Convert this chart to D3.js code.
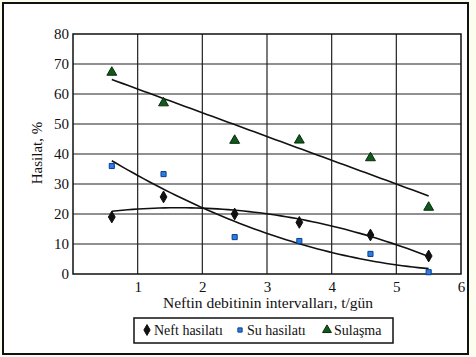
<!DOCTYPE html>
<html>
<head>
<meta charset="utf-8">
<script src="https://cdn.jsdelivr.net/npm/d3@7"></script>
<style>
  html, body { margin: 0; padding: 0; background: #fcfcef; }
  svg { display: block; }
  text { font-family: "Liberation Serif", "Times New Roman", serif; fill: #111; }
</style>
</head>
<body>
<div class="chart"></div>
<script>
'use strict';

// intervals on x (t/gün) and the three series, %
var intervals = [0.6, 1.4, 2.5, 3.5, 4.6, 5.5];
var neftHasilati = [19, 25.7, 20, 17.2, 13, 6];
var suHasilati = [36, 33.3, 12.3, 11, 6.7, 0.6];
var sulasma = [67.2, 57, 44.5, 44.6, 38.7, 22.2];

var xTicks = [1, 2, 3, 4, 5, 6];
var yTicks = [0, 10, 20, 30, 40, 50, 60, 70, 80];
var legendNames = ["Neft hasilatı", "Su hasilatı", "Sulaşma"];

var W = 476, H = 357;
var margin = {top: 34, right: 15, bottom: 83, left: 73};
var width = W - margin.left - margin.right;
var height = H - margin.top - margin.bottom;

var svg = d3.select(".chart")
            .append("svg")
            .attr("width", W)
            .attr("height", H);

// outer frame of the figure
svg.append("rect")
   .attr("x", 3).attr("y", 3)
   .attr("width", 465).attr("height", 351)
   .attr("fill", "#fff")
   .attr("stroke", "#111")
   .attr("stroke-width", 2);

var g = svg.append("g")
           .attr("transform", "translate(" + margin.left + "," + margin.top + ")");

var x = d3.scaleLinear().domain([0, 6]).range([0, width]);
var y = d3.scaleLinear().domain([0, 80]).range([height, 0]);

// grid
g.selectAll("line.vgrid")
 .data(xTicks.slice(0, -1))
 .enter().append("line")
 .attr("x1", function(d){ return x(d); })
 .attr("x2", function(d){ return x(d); })
 .attr("y1", 0).attr("y2", height)
 .attr("stroke", "#222").attr("stroke-width", 1.2);

g.selectAll("line.hgrid")
 .data(yTicks.slice(1, -1))
 .enter().append("line")
 .attr("x1", 0).attr("x2", width)
 .attr("y1", function(d){ return y(d); })
 .attr("y2", function(d){ return y(d); })
 .attr("stroke", "#222").attr("stroke-width", 1.2);

g.append("rect")
 .attr("width", width).attr("height", height)
 .attr("fill", "none")
 .attr("stroke", "#111").attr("stroke-width", 1.5);

// axes (ticks hidden, just labels)
var xAxis = g.append("g")
             .attr("transform", "translate(0," + height + ")")
             .call(d3.axisBottom(x).tickValues(xTicks).tickFormat(d3.format("d")).tickSize(0).tickPadding(7));
var yAxis = g.append("g")
             .call(d3.axisLeft(y).tickValues(yTicks).tickFormat(d3.format("d")).tickSize(0).tickPadding(4));
[xAxis, yAxis].forEach(function(a){
  a.select(".domain").remove();
  a.selectAll("text").style("font-size", "15px").attr("fill", "#111");
});

svg.append("text")
   .attr("x", 268)
   .attr("y", 308)
   .attr("text-anchor", "middle")
   .style("font-size", "15.5px")
   .text("Neftin debitinin intervalları, t/gün");

svg.append("text")
   .attr("transform", "translate(42,153) rotate(-90)")
   .attr("text-anchor", "middle")
   .style("font-size", "15px")
   .text("Hasilat, %");

// least squares polynomial fit (trend lines)
function polyfit(xs, ys, order){
  var n = order + 1, A = [], i, j, k;
  for(i = 0; i < n; i++){
    A.push([]);
    for(j = 0; j < n; j++){
      A[i].push(d3.sum(xs, function(v){ return Math.pow(v, i + j); }));
    }
    A[i].push(d3.sum(xs, function(v, idx){ return Math.pow(v, i) * ys[idx]; }));
  }
  for(i = 0; i < n; i++){
    for(k = i + 1; k < n; k++){
      var f = A[k][i] / A[i][i];
      for(j = i; j <= n; j++) A[k][j] -= f * A[i][j];
    }
  }
  var c = new Array(n);
  for(i = n - 1; i >= 0; i--){
    var s = A[i][n];
    for(j = i + 1; j < n; j++) s -= A[i][j] * c[j];
    c[i] = s / A[i][i];
  }
  return function(v){ return d3.sum(c, function(ci, p){ return ci * Math.pow(v, p); }); };
}

var line = d3.line()
             .x(function(d){ return x(d[0]); })
             .y(function(d){ return y(d[1]); });

function trend(ys, order){
  var f = polyfit(intervals, ys, order);
  var x0 = d3.min(intervals), x1 = d3.max(intervals);
  var pts = d3.range(0, 61).map(function(i){
    var v = x0 + (x1 - x0) * i / 60;
    return [v, f(v)];
  });
  g.append("path")
   .attr("d", line(pts))
   .attr("fill", "none")
   .attr("stroke", "#111")
   .attr("stroke-width", 1.6);
}

trend(sulasma, 1);
trend(neftHasilati, 2);
trend(suHasilati, 2);

// markers
var diamond = d3.symbol().type(d3.symbolDiamond).size(40);
var square = d3.symbol().type(d3.symbolSquare).size(26);
var triangle = d3.symbol().type(d3.symbolTriangle).size(42);

function points(ys, sym, fill, stroke){
  g.selectAll(null)
   .data(ys)
   .enter().append("path")
   .attr("d", sym)
   .attr("transform", function(d, i){ return "translate(" + x(intervals[i]) + "," + y(d) + ")"; })
   .attr("fill", fill)
   .attr("stroke", stroke)
   .attr("stroke-width", 1);
}

points(neftHasilati, diamond, "#111", "#111");
points(suHasilati, square, "#2a7de1", "#0b3c8c");
points(sulasma, triangle, "#0e5a1c", "#0a2a0a");

// legend
var legend = svg.append("g").attr("transform", "translate(134,318)");
legend.append("rect")
      .attr("width", 259).attr("height", 25)
      .attr("fill", "#fff")
      .attr("stroke", "#111").attr("stroke-width", 1.5);

var legendItems = [
  {type: d3.symbolDiamond, size: 34, fill: "#111", stroke: "#111", x: 13},
  {type: d3.symbolSquare, size: 18, fill: "#2a7de1", stroke: "#0b3c8c", x: 106},
  {type: d3.symbolTriangle, size: 34, fill: "#0e5a1c", stroke: "#0a2a0a", x: 193}
];

legendItems.forEach(function(it, i){
  legend.append("path")
        .attr("d", d3.symbol().type(it.type).size(it.size))
        .attr("transform", "translate(" + it.x + ",12)")
        .attr("fill", it.fill)
        .attr("stroke", it.stroke);
  legend.append("text")
        .attr("x", it.x + 7)
        .attr("y", 17)
        .style("font-size", "14px")
        .text(legendNames[i]);
});
</script>
</body>
</html>
